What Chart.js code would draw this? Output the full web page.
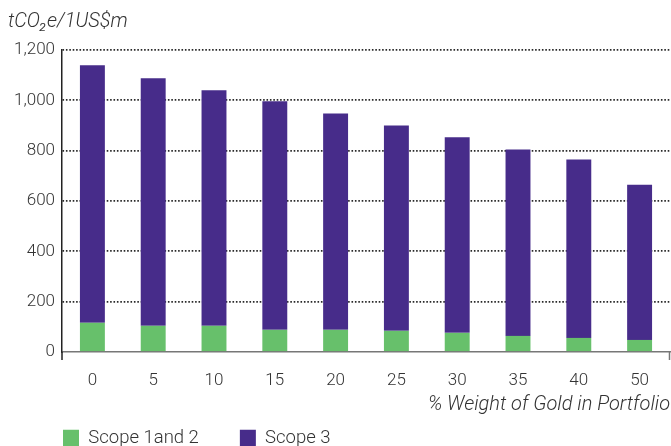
<!DOCTYPE html>
<html>
<head>
<meta charset="utf-8">
<script src="https://cdn.jsdelivr.net/npm/chart.js@4.4.0/dist/chart.umd.min.js"></script>
<style>
  html, body { margin: 0; padding: 0; background: #fff; }
  #wrap { width: 671px; height: 446px; }
</style>
</head>
<body>
<div id="wrap"><canvas id="chart"></canvas></div>
<script>
// Data
const goldWeights = ['0', '5', '10', '15', '20', '25', '30', '35', '40', '50'];
const scope12 = [116, 104, 104, 88, 88, 84, 76, 64, 56, 48];
const scope3 = [1023, 984, 936, 908, 860, 816, 777, 741, 709, 617];
const yTicks = [0, 200, 400, 600, 800, 1000, 1200];

const fontFamily = 'Roboto, "Liberation Sans", sans-serif';
const textColor = '#333';

// unit label top-left, end ticks under the x axis, legend nudged right
const extras = {
    id: 'extras',
    afterLayout(chart) {
        chart.legend.left = 22;
    },
    afterDraw(chart) {
        const ctx = chart.ctx;
        const area = chart.chartArea;
        ctx.save();
        ctx.strokeStyle = '#222';
        ctx.lineWidth = 1.5;
        ctx.beginPath();
        ctx.moveTo(area.left, area.bottom);
        ctx.lineTo(area.left, area.bottom + 8);
        ctx.stroke();
        ctx.strokeStyle = '#777';
        ctx.beginPath();
        ctx.moveTo(area.right - 0.5, area.bottom);
        ctx.lineTo(area.right - 0.5, area.bottom + 8);
        ctx.stroke();

        ctx.fillStyle = textColor;
        ctx.font = 'italic 300 20px ' + fontFamily;
        ctx.textBaseline = 'middle';
        ctx.textAlign = 'left';
        ctx.fillText('tCO\u2082e/1US$m', 8, 22);
        ctx.restore();
    }
};

const ctx = document.getElementById('chart').getContext('2d');
new Chart(ctx, {
    type: 'bar',
    data: {
        labels: goldWeights,
        datasets: [{
            label: 'Scope 1and 2',
            data: scope12,
            backgroundColor: '#67c06b',
            barPercentage: 0.41,
            categoryPercentage: 1
        }, {
            label: 'Scope 3',
            data: scope3,
            backgroundColor: '#472c8a',
            barPercentage: 0.41,
            categoryPercentage: 1
        }]
    },
    options: {
        responsive: true,
        maintainAspectRatio: false,
        animation: false,
        layout: {
            padding: { left: 4, right: 1, top: 50, bottom: 0 }
        },
        plugins: {
            tooltip: { enabled: false },
            legend: {
                position: 'bottom',
                align: 'start',
                maxHeight: 58,
                labels: {
                    boxWidth: 16,
                    boxHeight: 17,
                    padding: 41,
                    color: textColor,
                    font: { family: fontFamily, size: 18.5, weight: 300 }
                }
            }
        },
        scales: {
            x: {
                stacked: true,
                afterFit(scale) { scale.height = 36; },
                grid: { display: false },
                border: { display: true, color: '#777', width: 1.5 },
                ticks: {
                    padding: 11,
                    color: textColor,
                    font: { family: fontFamily, size: 17, weight: 300 }
                },
                title: {
                    display: true,
                    text: '% Weight of Gold in Portfolio',
                    align: 'end',
                    color: textColor,
                    padding: { top: 0, bottom: -29 },
                    font: { family: fontFamily, size: 20, style: 'italic', weight: 300 }
                }
            },
            y: {
                stacked: true,
                min: 0,
                max: 1200,
                afterFit(scale) { scale.width = 58; },
                afterBuildTicks(scale) { scale.ticks = yTicks.map(v => ({ value: v })); },
                grid: {
                    drawTicks: false,
                    color: c => c.tick && c.tick.value === 0 ? 'rgba(0,0,0,0)' : '#2a2a2a',
                    lineWidth: 1.8
                },
                border: { display: true, color: '#222', width: 1.5, dash: [1.6, 1.8] },
                ticks: {
                    padding: 7,
                    color: textColor,
                    font: { family: fontFamily, size: 17, weight: 300 },
                    callback: v => v.toLocaleString('en-US')
                }
            }
        }
    },
    plugins: [extras]
});
</script>
</body>
</html>
